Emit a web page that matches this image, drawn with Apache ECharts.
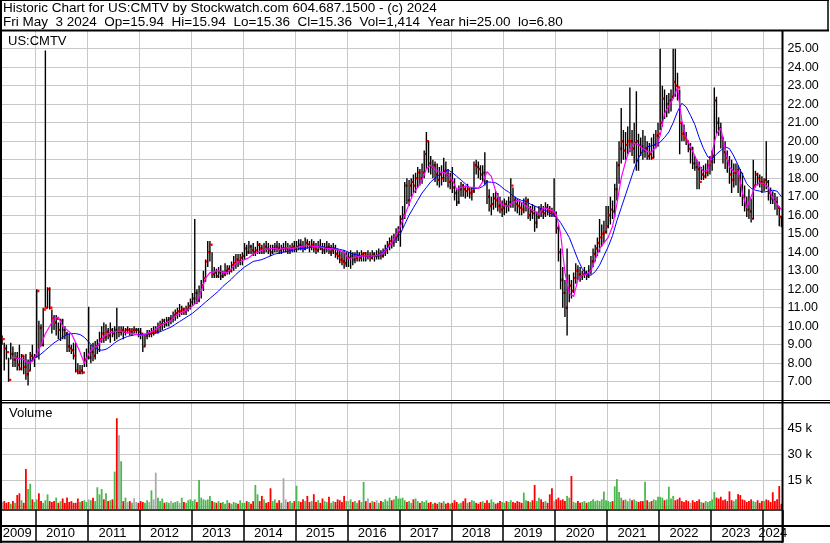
<!DOCTYPE html>
<html>
<head>
<meta charset="utf-8">
<title>US:CMTV historic chart</title>
<script src="https://cdn.jsdelivr.net/npm/echarts@6/dist/echarts.min.js"></script>
<style>
  html, body { margin: 0; padding: 0; background: #fff; }
  #chart { width: 830px; height: 543px; }
</style>
</head>
<body>
<div id="chart"></div>
<script>
// half-month bars, first half of May 2009 .. first half of May 2024
const startYear = 2009, startMonth = 5, barCount = 361;

const highs = [
  9.5, 9.1, 9.0, 8.3, 9.1, 8.9, 8.6, 8.6, 9.0, 8.5, 8.4, 8.5, 8.2, 8.6, 9.0, 8.5,
  12.0, 10.3, 10.1, 11.0, 24.9, 12.1, 12.1, 10.9, 10.6, 10.6, 10.2, 10.4, 10.4, 10.0, 9.7, 9.6, 9.0, 9.1, 9.1, 8.0, 7.9, 7.9, 8.6, 8.8,
  11.05, 9.0, 9.1, 9.2, 9.3, 9.7, 10.0, 10.2, 10.1, 9.9, 10.2, 9.9, 10.0, 11.0, 10.0, 10.0, 10.0, 9.9, 10.0, 9.9, 9.9, 10.0, 9.9, 9.9,
  9.9, 9.6, 9.6, 9.8, 9.8, 9.9, 10.0, 10.0, 10.2, 10.3, 10.4, 10.4, 10.5, 10.5, 10.6, 10.8, 10.9, 11.0, 11.2, 11.1, 11.0, 11.1, 11.3, 11.5,
  11.8, 15.8, 12.0, 12.2, 12.5, 13.0, 13.6, 14.6, 14.6, 14.0, 13.2, 13.1, 13.2, 13.3, 13.0, 13.4, 13.3, 13.3, 13.5, 13.8, 13.9, 13.9, 13.9, 14.0,
  14.5, 14.4, 14.6, 14.4, 14.5, 14.3, 14.6, 14.5, 14.4, 14.5, 14.6, 14.5, 14.4, 14.4, 14.5, 14.6, 14.5, 14.4, 14.5, 14.6, 14.5, 14.4, 14.5, 14.6,
  14.6, 14.7, 14.7, 14.6, 14.8, 14.7, 14.6, 14.7, 14.6, 14.5, 14.6, 14.7, 14.5, 14.5, 14.6, 14.5, 14.4, 14.5, 14.4, 14.2, 14.1, 14.0, 14.1, 14.0,
  14.0, 14.1, 14.0, 14.0, 14.1, 14.0, 14.1, 14.0, 14.0, 14.1, 14.0, 14.1, 14.0, 14.1, 14.2, 14.1, 14.2, 14.4, 14.6, 14.8, 14.9, 15.0, 15.3, 15.4,
  16.0, 16.5, 17.8, 18.0, 17.9, 18.0, 18.2, 18.3, 18.6, 18.5, 18.8, 19.5, 20.5, 20.0, 19.2, 19.0, 18.9, 18.8, 18.6, 18.7, 19.1, 18.9, 18.5, 18.3,
  18.6, 18.0, 17.4, 17.6, 17.8, 17.7, 17.6, 17.7, 17.5, 17.5, 18.9, 19.0, 18.9, 18.7, 18.7, 19.4, 17.9, 17.4, 17.0, 17.2, 17.3, 17.2, 17.0, 16.8,
  16.9, 16.8, 17.0, 18.0, 17.5, 17.0, 16.9, 16.8, 16.7, 16.9, 17.0, 16.9, 16.5, 16.6, 16.5, 16.2, 16.5, 16.6, 16.5, 16.7, 16.6, 16.5, 16.4, 18.0,
  16.2, 15.5, 14.2, 13.2, 12.5, 14.2, 12.8, 12.5, 12.9, 13.4, 13.3, 13.2, 13.0, 13.2, 13.0, 13.3, 13.8, 14.2, 14.4, 14.8, 15.8, 15.5, 15.7, 16.5,
  16.5, 17.0, 16.8, 17.7, 18.9, 20.0, 21.8, 20.6, 20.5, 20.8, 22.9, 20.6, 21.0, 22.7, 20.4, 20.2, 20.6, 20.3, 20.0, 19.9, 20.2, 20.4, 20.6, 21.0,
  25.0, 23.0, 22.8, 22.5, 22.6, 22.8, 25.0, 25.0, 23.7, 22.8, 21.0, 20.9, 20.5, 20.0, 19.9, 19.7, 19.2, 19.0, 18.9, 18.6, 18.7, 18.8, 19.0, 19.2,
  19.5, 22.9, 22.4, 21.3, 21.0, 20.2, 20.0, 19.5, 19.2, 19.0, 18.8, 18.8, 18.7, 18.5, 18.3, 17.6, 17.0, 17.4, 16.9, 19.0, 18.4, 18.3, 18.2, 18.1,
  18.0, 20.0, 17.9, 17.5, 17.3, 17.2, 17.0, 16.5, 15.94
];

const lows = [
  9.0, 7.6, 8.2, 7.0, 8.2, 7.8, 7.8, 7.6, 7.6, 7.6, 7.4, 7.1, 6.8, 7.6, 8.1, 7.8,
  8.3, 8.2, 8.9, 8.9, 11.0, 11.0, 10.9, 9.6, 9.8, 9.5, 9.3, 9.2, 9.3, 9.3, 8.6, 8.6, 8.5, 8.2, 7.5, 7.4, 7.4, 7.4, 7.8, 7.8,
  8.2, 8.0, 8.1, 8.2, 8.5, 8.6, 9.1, 9.1, 9.2, 9.3, 9.1, 9.4, 9.2, 9.3, 9.4, 9.5, 9.3, 9.5, 9.6, 9.5, 9.5, 9.6, 9.6, 9.4,
  9.3, 8.6, 8.9, 9.3, 9.4, 9.4, 9.5, 9.6, 9.6, 9.7, 9.8, 9.9, 10.0, 10.0, 10.1, 10.2, 10.3, 10.4, 10.5, 10.6, 10.6, 10.6, 10.8, 10.9,
  11.1, 11.2, 11.2, 11.3, 11.5, 11.9, 12.4, 13.2, 13.5, 12.6, 12.6, 12.6, 12.6, 12.5, 12.6, 12.7, 12.8, 12.8, 12.9, 13.0, 13.1, 13.2, 13.3, 13.3,
  13.6, 13.8, 13.9, 13.9, 13.8, 13.8, 13.9, 13.9, 13.9, 13.9, 14.0, 13.9, 13.8, 13.9, 14.0, 14.0, 13.9, 13.9, 14.0, 14.0, 13.9, 13.9, 14.0, 14.0,
  14.0, 14.1, 14.1, 14.0, 14.1, 14.2, 14.0, 14.1, 14.0, 13.9, 14.0, 14.1, 13.9, 13.9, 14.0, 13.9, 13.8, 13.9, 13.7, 13.6, 13.4, 13.3, 13.1, 13.2,
  13.2, 13.1, 13.3, 13.4, 13.5, 13.5, 13.5, 13.5, 13.5, 13.6, 13.5, 13.6, 13.5, 13.6, 13.6, 13.6, 13.7, 13.8, 13.9, 14.1, 14.2, 14.3, 14.5, 14.6,
  14.3, 15.3, 15.8, 16.6, 16.5, 17.0, 17.2, 17.2, 17.5, 17.6, 17.7, 18.0, 18.5, 18.3, 18.2, 18.0, 17.8, 17.6, 17.5, 17.6, 17.8, 17.8, 17.5, 17.4,
  17.2, 16.8, 16.5, 16.6, 17.0, 17.0, 16.9, 17.0, 16.9, 16.8, 17.2, 18.2, 18.0, 17.9, 17.8, 17.6, 16.6, 16.2, 16.0, 16.3, 16.4, 16.2, 16.1, 15.9,
  16.0, 16.1, 16.2, 16.4, 16.4, 16.2, 16.1, 16.0, 16.0, 16.1, 16.2, 15.8, 15.7, 15.8, 15.1, 15.3, 15.8, 15.9, 15.8, 15.9, 16.0, 15.9, 15.9, 15.9,
  15.0, 13.5, 12.0, 11.0, 10.5, 9.5, 11.3, 11.5, 11.8, 12.3, 12.5, 12.4, 12.5, 12.6, 12.5, 12.6, 12.8, 13.2, 13.5, 13.8, 14.0, 14.3, 14.5, 15.0,
  15.3, 15.5, 15.8, 15.9, 16.8, 17.7, 18.8, 19.0, 19.0, 19.3, 19.4, 19.2, 18.8, 18.4, 18.4, 19.2, 19.0, 19.1, 19.0, 19.0, 19.0, 19.1, 19.6, 19.7,
  20.6, 20.8, 21.2, 21.3, 21.5, 21.6, 22.3, 22.4, 22.2, 19.3, 20.0, 20.0, 19.8, 19.4, 18.8, 18.5, 18.4, 17.4, 17.4, 17.9, 17.9, 18.0, 18.1, 18.2,
  18.4, 18.8, 20.4, 20.3, 19.6, 18.8, 18.5, 18.3, 17.7, 17.2, 17.5, 17.6, 17.2, 17.0, 16.5, 16.2, 15.9, 15.8, 15.6, 15.8, 17.5, 17.6, 17.5, 17.2,
  17.3, 17.4, 16.8, 16.6, 16.6, 16.3, 16.0, 15.4, 15.36
];

const closes = [
  9.3, 8.8, 8.6, 7.1, 8.5, 8.2, 8.3, 7.9, 7.7, 8.4, 7.8, 7.4, 7.6, 8.4, 8.3, 8.4,
  11.9, 9.9, 9.0, 10.9, 11.0, 12.0, 11.0, 10.4, 10.2, 10.4, 9.8, 10.3, 9.8, 9.6, 8.9, 8.8, 8.7, 8.4, 7.6, 7.5, 7.6, 7.5, 8.2, 8.3,
  8.3, 8.6, 8.4, 8.9, 9.0, 9.3, 9.6, 9.4, 9.7, 9.5, 9.8, 9.6, 9.8, 9.7, 9.7, 9.8, 9.7, 9.8, 9.8, 9.7, 9.8, 9.8, 9.8, 9.7,
  9.6, 8.9, 9.5, 9.6, 9.6, 9.7, 9.7, 9.7, 10.0, 10.1, 10.3, 10.1, 10.3, 10.4, 10.4, 10.6, 10.7, 10.8, 10.8, 10.9, 10.8, 10.9, 11.1, 11.3,
  11.5, 11.8, 11.4, 11.8, 12.2, 12.6, 13.5, 14.0, 14.4, 12.8, 12.9, 12.7, 12.9, 12.7, 12.8, 13.0, 13.1, 13.0, 13.3, 13.4, 13.6, 13.5, 13.7, 13.8,
  14.2, 14.0, 14.3, 14.1, 14.0, 14.1, 14.4, 14.2, 14.1, 14.3, 14.2, 14.1, 14.0, 14.2, 14.3, 14.2, 14.1, 14.2, 14.2, 14.2, 14.1, 14.2, 14.3, 14.2,
  14.3, 14.4, 14.3, 14.2, 14.5, 14.4, 14.3, 14.4, 14.2, 14.1, 14.3, 14.2, 14.1, 14.2, 14.3, 14.0, 14.1, 14.2, 13.9, 13.8, 13.6, 13.5, 13.4, 13.7,
  13.7, 13.8, 13.6, 13.7, 13.8, 13.7, 13.9, 13.95, 13.8, 13.8, 13.7, 13.9, 13.8, 13.8, 13.9, 13.8, 14.0, 14.1, 14.4, 14.6, 14.5, 14.8, 14.9, 15.1,
  15.8, 16.0, 17.6, 16.8, 17.6, 17.8, 17.6, 18.0, 18.3, 18.0, 18.3, 19.3, 20.0, 18.8, 18.6, 18.7, 18.2, 17.9, 18.2, 18.0, 18.4, 18.2, 17.8, 17.9,
  17.5, 17.2, 16.7, 17.4, 17.6, 17.4, 17.3, 17.4, 17.2, 17.3, 18.7, 18.6, 18.5, 18.2, 18.3, 17.8, 17.0, 16.5, 16.6, 16.9, 16.8, 16.5, 16.3, 16.4,
  16.6, 16.5, 16.7, 17.6, 16.8, 16.6, 16.5, 16.4, 16.3, 16.6, 16.8, 16.0, 16.2, 16.1, 15.6, 15.9, 16.3, 16.2, 16.1, 16.4, 16.3, 16.2, 16.1, 16.1,
  15.3, 14.0, 12.5, 11.8, 11.0, 12.0, 12.2, 11.9, 12.6, 13.0, 12.8, 12.7, 12.8, 12.9, 12.7, 13.0, 13.5, 13.9, 14.2, 14.5, 14.8, 15.0, 15.1, 15.4,
  16.0, 16.3, 16.2, 17.4, 18.7, 19.6, 20.0, 19.5, 19.8, 20.0, 20.0, 19.6, 19.9, 20.0, 19.8, 19.7, 19.5, 19.6, 19.2, 19.3, 19.1, 19.8, 20.3, 20.4,
  21.0, 22.3, 21.6, 22.0, 22.2, 22.4, 23.2, 23.0, 22.9, 21.0, 20.4, 20.2, 20.0, 19.6, 19.6, 18.8, 18.6, 18.5, 17.8, 18.2, 18.1, 18.3, 18.7, 18.9,
  19.2, 22.2, 21.0, 20.7, 20.2, 19.4, 19.1, 18.9, 18.2, 17.9, 18.3, 18.4, 18.1, 17.6, 17.0, 16.5, 16.3, 16.2, 15.8, 17.6, 18.2, 18.0, 17.8, 17.7,
  17.9, 17.8, 17.2, 16.9, 16.8, 16.7, 16.4, 15.9, 15.36
];

// volume in thousands of shares
const volumes = [
  2.5, 3.0, 2.0, 2.5, 1.5, 3.0, 2.0, 6.5, 7.5, 3.5, 2.0, 21.5, 10.0, 13.0, 4.0, 2.5,
  4.0, 7.5, 3.0, 2.0, 3.5, 6.9, 3.0, 2.5, 3.0, 5.0, 2.0, 3.0, 4.5, 2.0, 5.1, 2.5, 3.0, 2.0, 2.0, 4.5, 2.5, 3.0, 3.5, 2.5,
  4.0, 3.5, 5.0, 3.0, 11.0, 6.9, 10.0, 4.0, 7.5, 3.0, 3.5, 4.0, 20.0, 50.8, 41.0, 26.0, 3.0, 5.0, 2.5, 3.0, 2.0, 4.6, 2.5, 2.0,
  3.0, 2.5, 2.0, 3.5, 2.5, 9.2, 4.0, 19.4, 5.0, 3.0, 4.5, 2.0, 2.5, 2.0, 3.0, 2.0, 2.5, 3.0, 2.0, 5.0, 2.5, 2.0, 3.5, 4.0,
  3.0, 4.0, 2.5, 15.2, 5.0, 4.0, 3.5, 4.0, 6.0, 3.0, 2.5, 2.0, 3.0, 2.0, 2.5, 1.5, 3.5, 2.0, 1.5, 2.5, 2.0, 1.5, 3.5, 2.0,
  2.0, 3.0, 2.5, 1.5, 3.0, 12.3, 6.9, 3.0, 6.0, 4.0, 2.0, 2.5, 10.4, 3.0, 4.0, 2.0, 3.5, 2.0, 16.2, 4.0, 2.5, 3.0, 2.0, 3.0,
  11.9, 3.0, 2.5, 4.0, 3.0, 6.0, 2.5, 3.0, 7.0, 2.5, 3.5, 2.0, 4.5, 3.0, 2.5, 5.5, 2.0, 3.0, 2.5, 4.0, 3.5, 2.5, 6.0, 3.0,
  3.0, 4.0, 2.5, 3.0, 2.0, 3.5, 2.5, 14.0, 3.0, 4.5, 2.0, 3.0, 2.5, 3.5, 2.0, 3.0, 2.5, 4.0, 3.0, 5.0, 3.5, 4.0, 6.0, 4.5,
  4.5, 5.0, 3.5, 2.5, 3.0, 2.0, 4.0, 4.5, 3.0, 2.0, 3.0, 2.5, 3.5, 2.0, 2.5, 1.5, 2.0, 1.5, 2.5, 2.0, 3.0, 1.5, 2.0, 1.5,
  2.0, 3.5, 2.5, 1.5, 2.0, 3.0, 4.6, 2.0, 2.5, 3.6, 3.0, 2.0, 1.5, 2.5, 3.0, 2.0, 3.5, 2.0, 4.0, 2.5, 1.5, 2.0, 3.0, 2.5,
  2.0, 3.0, 2.5, 3.5, 2.5, 2.0, 3.0, 2.5, 2.0, 7.9, 3.5, 3.0, 2.5, 3.5, 12.3, 3.0, 5.0, 4.0, 2.5, 3.0, 2.0, 6.9, 10.4, 3.0,
  4.0, 5.0, 3.5, 4.0, 3.0, 6.0, 5.0, 17.5, 2.5, 2.0, 3.0, 2.0, 2.5, 3.0, 2.0, 2.5, 3.0, 4.0, 3.0, 3.5, 3.0, 4.0, 8.6, 3.5,
  3.0, 2.5, 3.0, 11.5, 15.7, 8.3, 5.0, 3.5, 4.0, 3.0, 4.5, 3.5, 4.0, 3.0, 2.5, 3.0, 3.0, 14.2, 3.5, 2.5, 3.0, 4.0, 3.5, 5.5,
  5.5, 5.0, 3.5, 4.0, 11.3, 4.5, 6.0, 3.5, 4.0, 5.0, 3.0, 2.5, 3.5, 3.0, 2.0, 3.5, 2.5, 3.0, 4.0, 2.5, 2.0, 3.0, 2.5, 3.0,
  4.0, 8.3, 5.0, 4.5, 5.5, 3.5, 4.0, 3.0, 8.6, 3.5, 3.0, 4.0, 7.0, 6.5, 4.0, 3.5, 2.5, 3.0, 4.0, 3.0, 2.5, 3.5, 2.0, 3.0,
  3.0, 4.0, 3.5, 2.5, 8.1, 3.0, 4.0, 11.7, 1.4
];

// moving averages, one reading per month (May 2009 .. May 2024)
const maShort = [
  null, null, 8.3, 8.3, 8.25, 8.2, 8.0, 8.1,
  8.5, 9.0, 9.6, 10.0, 10.4, 10.5, 10.0, 9.8, 9.6, 9.1, 8.6, 8.0,
  8.5, 8.85, 8.9, 9.3, 9.55, 9.65, 9.7, 9.75, 9.7, 9.65, 9.6, 9.55,
  9.5, 9.55, 9.65, 9.75, 9.95, 10.1, 10.2, 10.3, 10.55, 10.7, 10.8, 10.9,
  11.1, 11.3, 11.9, 12.6, 12.9, 12.95, 13.0, 12.9, 12.9, 13.1, 13.4, 13.5,
  13.6, 13.7, 13.9, 14.0, 14.1, 14.15, 14.2, 14.2, 14.15, 14.2, 14.25, 14.2,
  14.25, 14.3, 14.35, 14.35, 14.3, 14.3, 14.25, 14.2, 14.2, 14.15, 14.1, 14.0,
  13.65, 13.7, 13.75, 13.8, 13.8, 13.8, 13.8, 13.85, 13.95, 14.2, 14.5, 14.9,
  15.4, 16.0, 16.6, 17.2, 17.5, 17.9, 18.5, 18.7, 18.45, 18.35, 18.3, 18.2,
  17.9, 17.4, 17.5, 17.55, 17.5, 17.5, 17.45, 17.8, 18.35, 18.1, 17.3, 16.7,
  16.5, 16.5, 16.7, 16.8, 16.7, 16.5, 16.35, 16.2, 16.05, 16.4, 16.35, 16.25,
  16.05, 15.0, 12.9, 11.8, 11.6, 12.5, 12.75, 12.8, 13.0, 13.6, 14.2, 14.5,
  14.8, 15.4, 16.6, 18.0, 18.9, 19.6, 19.9, 19.8, 19.6, 19.45, 19.4, 19.7,
  20.3, 21.5, 21.9, 22.3, 22.9, 21.1, 20.2, 19.7, 19.2, 18.7, 18.35, 18.45,
  19.4, 20.4, 20.7, 19.6, 18.6, 18.35, 18.4, 17.2, 16.4, 17.0, 17.6, 17.75,
  17.7, 17.5, 16.9, 16.6, 16.3
];

const maLong = [
  null, null, null, null, null, null, 8.0, 8.2,
  8.35, 8.5, 8.7, 8.9, 9.1, 9.25, 9.4, 9.55, 9.6, 9.6, 9.55, 9.4,
  9.15, 8.9, 8.75, 8.7, 8.75, 8.9, 9.1, 9.25, 9.35, 9.45, 9.5, 9.55,
  9.55, 9.55, 9.6, 9.6, 9.65, 9.75, 9.85, 9.95, 10.1, 10.25, 10.4, 10.55,
  10.7, 10.9, 11.1, 11.3, 11.5, 11.7, 11.9, 12.15, 12.35, 12.55, 12.8, 13.0,
  13.2, 13.35, 13.5, 13.55, 13.6, 13.7, 13.8, 13.9, 13.95, 14.0, 14.05, 14.1,
  14.15, 14.2, 14.2, 14.25, 14.3, 14.3, 14.3, 14.25, 14.25, 14.2, 14.15, 14.1,
  14.0, 13.9, 13.85, 13.8, 13.8, 13.8, 13.8, 13.85, 14.0, 14.25, 14.5, 14.75,
  15.0, 15.5, 16.0, 16.4, 16.8, 17.2, 17.5, 17.8, 18.0, 18.2, 18.35, 18.45,
  18.3, 18.1, 17.9, 17.7, 17.5, 17.45, 17.45, 17.55, 17.8, 17.78, 17.75, 17.6,
  17.4, 17.25, 17.05, 16.9, 16.8, 16.75, 16.6, 16.5, 16.4, 16.3, 16.2, 16.05,
  15.9, 15.6, 15.2, 14.8, 14.2, 13.6, 13.1, 12.8, 12.75, 12.95, 13.3, 13.8,
  14.3, 14.9, 15.7, 16.4, 17.1, 17.8, 18.5, 19.1, 19.5, 19.7, 19.75, 19.85,
  19.95, 20.2, 20.5, 21.0, 21.6, 22.05, 21.85, 21.4, 20.9, 20.2, 19.6, 19.15,
  19.05, 19.3, 19.5, 19.7, 19.6, 19.2, 18.7, 18.2, 17.7, 17.45, 17.35, 17.3,
  17.25, 17.3, 17.35, 17.3, 17.0
];

const priceRange = [6, 26];
const volumeTicks = [15, 30, 45];

const header1 = 'Historic Chart for US:CMTV by Stockwatch.com 604.687.1500 - (c) 2024';
const header2 = 'Fri May  3 2024  Op=15.94  Hi=15.94  Lo=15.36  Cl=15.36  Vol=1,414  Year hi=25.00  lo=6.80';

const SANS = "'Liberation Sans', Arial, sans-serif";

// category per bar: 1st and 16th of each month
const categories = [];
for (let k = 0; k < barCount; k++) {
  const m = startMonth - 1 + Math.floor(k / 2);
  const y = startYear + Math.floor(m / 12);
  const mm = String(m % 12 + 1).padStart(2, '0');
  categories.push(y + '-' + mm + (k % 2 ? '-16' : '-01'));
}
const isYearStart = (i, v) => v.slice(5) === '01-01';

const byYear = {};
categories.forEach((c, i) => { (byYear[c.slice(0, 4)] = byYear[c.slice(0, 4)] || []).push(i); });
const labelIdx = new Set(Object.values(byYear).map(a => a[Math.floor((a.length - 1) / 2)]));

const ohlc = categories.map((c, i) => [i, highs[i], lows[i], closes[i]]);
const monthlyToBars = arr => categories.map((c, i) => (i % 2 === 0 ? arr[i / 2] : null));

const volData = volumes.map((v, i) => {
  const d = i === 0 ? 0 : closes[i] - closes[i - 1];
  const color = Math.abs(d) < 1e-9 ? '#aaaaaa' : (d > 0 ? '#4db84d' : '#ff0000');
  return { value: [i, v], itemStyle: { color } };
});

const GRID_X = { left: 1, right: 47.5 };
const gridLine = { show: true, lineStyle: { color: '#c8c8c8', width: 1 } };

const chart = echarts.init(document.getElementById('chart'));

function renderOhlc(params, api) {
  const i = api.value(0);
  const x = api.coord([i, api.value(1)])[0];
  const hi = api.coord([i, api.value(1)])[1];
  const lo = api.coord([i, api.value(2)])[1];
  const cl = api.coord([i, api.value(3)])[1];
  return {
    type: 'group',
    children: [
      { type: 'line', shape: { x1: x, y1: hi, x2: x, y2: lo }, style: { stroke: '#000', lineWidth: 1.4 } },
      { type: 'rect', shape: { x: x + 0.3, y: cl - 1.2, width: 2.4, height: 2.4 }, style: { fill: '#ff0000' } }
    ]
  };
}

// volume bars reach down to the panel's bottom rule
function renderVolume(params, api) {
  const top = api.coord([api.value(0), api.value(1)]);
  const base = api.coord([api.value(0), 0])[1] + 2.7;
  return {
    type: 'rect',
    shape: { x: top[0] - 0.9, y: top[1], width: 1.8, height: base - top[1] },
    style: { fill: api.visual('color') }
  };
}

const hLine = (x1, x2, y, w) => ({ type: 'line', z: 100, shape: { x1, y1: y, x2, y2: y }, style: { stroke: '#000', lineWidth: w } });
const vLine = (x, y1, y2, w) => ({ type: 'line', z: 100, shape: { x1: x, y1, x2: x, y2 }, style: { stroke: '#000', lineWidth: w } });

const option = {
  animation: false,
  backgroundColor: '#fff',
  textStyle: { fontFamily: SANS },
  grid: [
    Object.assign({ top: 30.2, height: 370, outerBoundsMode: 'none' }, GRID_X),
    Object.assign({ top: 402.3, height: 104, outerBoundsMode: 'none' }, GRID_X),
    Object.assign({ top: 510, height: 32, outerBoundsMode: 'none' }, GRID_X)
  ],
  xAxis: [
    {
      type: 'category', gridIndex: 0, data: categories, boundaryGap: true,
      axisLine: { show: false }, axisTick: { show: false }, axisLabel: { show: false },
      splitLine: Object.assign({ interval: isYearStart }, gridLine)
    },
    {
      type: 'category', gridIndex: 1, data: categories, boundaryGap: true,
      axisLine: { show: false }, axisTick: { show: false }, axisLabel: { show: false },
      splitLine: Object.assign({ interval: isYearStart }, gridLine)
    },
    {
      type: 'category', gridIndex: 2, data: categories, boundaryGap: true,
      axisLine: { show: false }, axisTick: { show: false },
      axisLabel: {
        inside: true, margin: 2, color: '#000', fontSize: 13, fontFamily: SANS,
        interval: (i) => labelIdx.has(i),
        formatter: (v) => v.slice(0, 4)
      },
      splitLine: { show: true, interval: isYearStart, lineStyle: { color: '#000', width: 1.5 } }
    }
  ],
  yAxis: [
    {
      type: 'value', gridIndex: 0, position: 'right', min: priceRange[0], max: priceRange[1], interval: 1,
      axisLine: { show: false }, axisTick: { show: false },
      axisLabel: {
        margin: 5, color: '#000', fontSize: 12.5, fontFamily: SANS,
        showMinLabel: false, showMaxLabel: false,
        formatter: (v) => v.toFixed(2)
      },
      splitLine: gridLine
    },
    {
      type: 'value', gridIndex: 1, position: 'right', min: 0, max: 60, interval: 15,
      axisLine: { show: false }, axisTick: { show: false },
      axisLabel: {
        margin: 5, color: '#000', fontSize: 13, fontFamily: SANS,
        formatter: (v) => (volumeTicks.includes(v) ? v + ' k' : '')
      },
      splitLine: gridLine
    },
    { type: 'value', gridIndex: 2, show: false }
  ],
  series: [
    {
      name: 'OHLC', type: 'custom', xAxisIndex: 0, yAxisIndex: 0,
      renderItem: renderOhlc, data: ohlc, clip: true,
      encode: { x: 0, y: [1, 2, 3] }, z: 2
    },
    {
      name: 'MA long', type: 'line', xAxisIndex: 0, yAxisIndex: 0,
      data: monthlyToBars(maLong), connectNulls: true, showSymbol: false, symbol: 'none',
      lineStyle: { color: '#0000ff', width: 1 }, z: 3
    },
    {
      name: 'MA short', type: 'line', xAxisIndex: 0, yAxisIndex: 0,
      data: monthlyToBars(maShort), connectNulls: true, showSymbol: false, symbol: 'none',
      lineStyle: { color: '#ff00ff', width: 1.2 }, z: 4
    },
    {
      name: 'Volume', type: 'custom', xAxisIndex: 1, yAxisIndex: 1,
      renderItem: renderVolume, data: volData, clip: false,
      encode: { x: 0, y: 1 }, z: 2
    }
  ],
  graphic: [
    { type: 'rect', z: 90, shape: { x: 0, y: 0, width: 829, height: 30 }, style: { fill: '#fff' } },
    { type: 'text', z: 101, x: 3, y: 8, style: { text: header1, font: '13.5px ' + SANS, fill: '#000', verticalAlign: 'middle' } },
    { type: 'text', z: 101, x: 3, y: 22.6, style: { text: header2, font: '13.5px ' + SANS, fill: '#000', verticalAlign: 'middle' } },
    { type: 'text', z: 101, x: 8, y: 41, style: { text: 'US:CMTV', font: '13px ' + SANS, fill: '#000', verticalAlign: 'middle' } },
    { type: 'text', z: 101, x: 9, y: 413.3, style: { text: 'Volume', font: '13px ' + SANS, fill: '#000', verticalAlign: 'middle' } },
    hLine(0, 829, 0.5, 1),
    hLine(0, 829, 30.5, 2),
    vLine(828, 0, 31, 1.5),
    vLine(1, 0, 543, 2),
    vLine(782.5, 30, 543, 2),
    hLine(0, 830, 400.5, 1),
    hLine(0, 830, 402.7, 1.5),
    hLine(0, 783, 510, 1.5),
    hLine(0, 830, 526, 2),
    hLine(0, 783, 541.8, 2)
  ]
};

chart.setOption(option);
window.addEventListener('resize', () => chart.resize());
</script>
</body>
</html>
